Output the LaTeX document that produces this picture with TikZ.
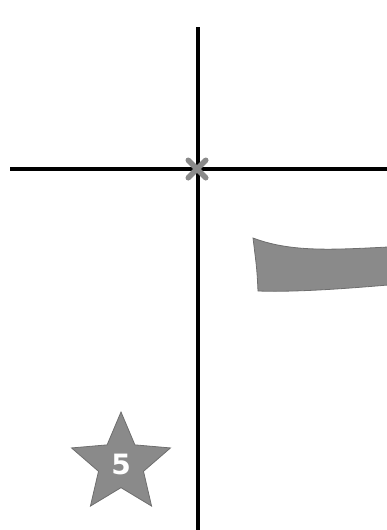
\documentclass[tikz,border=0pt]{standalone}
\usepackage{fontspec}
\setmainfont{DejaVu Sans}
\usetikzlibrary{shapes.geometric,shapes.misc}
\definecolor{shapegray}{HTML}{8A8A8A}
\definecolor{edgegray}{HTML}{6E6E6E}
\begin{document}
\begin{tikzpicture}[x=1pt,y=-1pt,
  axis/.style={line width=4.5pt},
  marker/.style={cross out,draw=shapegray,line width=5.5pt,line cap=round,minimum size=12pt,inner sep=0pt},
  graybox/.style={fill=shapegray,draw=edgegray,line width=0.8pt},
  starnode/.style={star,star points=5,star point ratio=2.2,minimum size=104pt,inner sep=0pt,fill=shapegray,draw=edgegray,line width=0.8pt,text=white,font=\bfseries\fontsize{28}{28}\selectfont}]
\useasboundingbox (0,0) rectangle (387,530);
\coordinate (vtop) at (198,27);
\coordinate (vbot) at (198,530);
\coordinate (hl) at (10,169);
\coordinate (hr) at (387,169);
\draw[axis] (vtop) -- (vbot);
\draw[axis] (hl) -- (hr);
\node[marker] (origin) at (197,169) {};
\draw[graybox] (253,238) .. controls (290,252) and (330,250) .. (388,247)
  -- (388,285) .. controls (330,290) and (290,292) .. (258,291)
  .. controls (257,270) .. cycle;
\node[starnode] (s5) at (121,464) {5};
\end{tikzpicture}
\end{document}
